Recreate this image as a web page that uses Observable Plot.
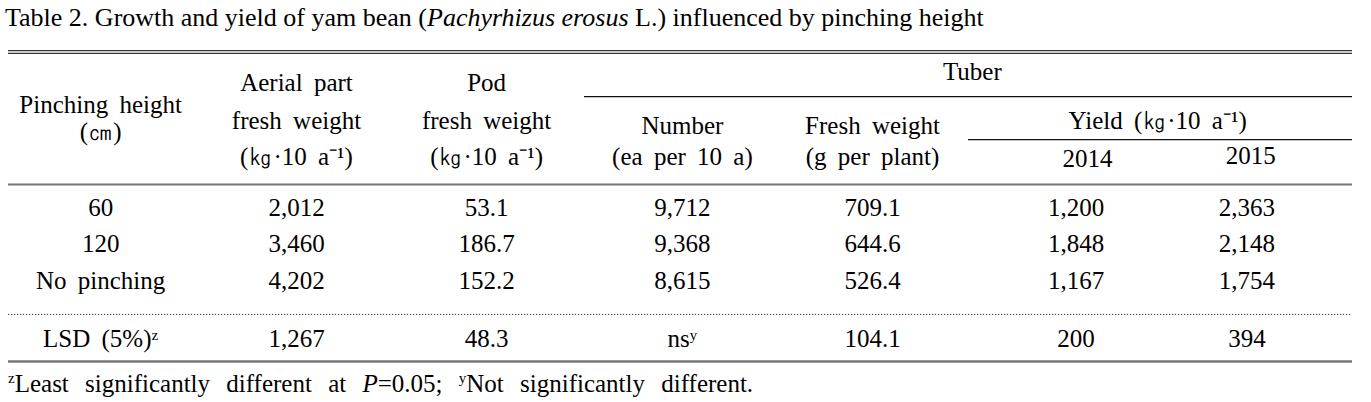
<!DOCTYPE html>
<html>
<head>
<meta charset="utf-8">
<script src="https://cdn.jsdelivr.net/npm/d3@7"></script>
<script src="https://cdn.jsdelivr.net/npm/@observablehq/plot@0.6"></script>
<style>
  html, body { margin: 0; padding: 0; background: #fff; width: 1371px; overflow: hidden; }
  #title { height: 40px; line-height: 36px; padding-left: 5px; font-family: 'Liberation Serif'; font-size: 26px; white-space: nowrap; color: #000; }
  #foot { height: 30px; line-height: 24px; padding-left: 8px; font-family: 'Liberation Serif'; font-size: 25px; word-spacing: 10px; white-space: nowrap; color: #000; }
  #foot sup { font-size: 15px; vertical-align: 9px; line-height: 0; }
  #chart svg { display: block; }
</style>
</head>
<body>
<div id="title">Table 2. Growth and yield of yam bean (<i>Pachyrhizus erosus</i> L.) influenced by pinching height</div>
<div id="chart"></div>
<div id="foot"><sup>z</sup>Least significantly different at <i>P</i>=0.05; <sup>y</sup>Not significantly different.</div>
<script>
// ---- data ----
const treatments = ["60", "120", "No pinching"];
const aerialFreshWeight = [2012, 3460, 4202];
const podFreshWeight = [53.1, 186.7, 152.2];
const tuberNumber = [9712, 9368, 8615];
const tuberFreshWeight = [709.1, 644.6, 526.4];
const yield2014 = [1200, 1848, 1167];
const yield2015 = [2363, 2148, 1754];
const lsdLabel = "LSD (5%)ᶻ";
const lsdValues = ["1,267", "48.3", "nsʸ", "104.1", "200", "394"];
const unitKg = "(㎏·10 a⁻¹)";
const headerLabels = {
  treat: ["Pinching height", "(㎝)"],
  aerial: ["Aerial part", "fresh weight", unitKg],
  pod: ["Pod", "fresh weight", unitKg],
  tuber: "Tuber",
  number: ["Number", "(ea per 10 a)"],
  freshW: ["Fresh weight", "(g per plant)"],
  yieldH: "Yield (㎏·10 a⁻¹)",
  years: ["2014", "2015"]
};

// ---- layout (column units / row units) ----
const colX = [0.48, 1.5, 2.49, 3.51, 4.5, 5.56, 6.45];
const fmtInt = d3.format(",");
const fmtDec = d3.format(".1f");
const series = [
  aerialFreshWeight.map(fmtInt),
  podFreshWeight.map(fmtDec),
  tuberNumber.map(fmtInt),
  tuberFreshWeight.map(fmtDec),
  yield2014.map(fmtInt),
  yield2015.map(fmtInt)
];

const cells = [];
treatments.forEach((t, i) => {
  cells.push({x: colX[0], y: i, text: t});
  series.forEach((s, j) => cells.push({x: colX[j + 1], y: i, text: s[i]}));
});
cells.push({x: colX[0], y: 3.59, text: lsdLabel});
lsdValues.forEach((v, j) => cells.push({x: colX[j + 1], y: 3.59, text: v}));

const header = [
  {x: 5.02, y: -3.70, text: headerLabels.tuber},
  {x: colX[0], y: -2.82, text: headerLabels.treat[0]},
  {x: colX[0], y: -2.08, text: headerLabels.treat[1]},
  {x: colX[1], y: -3.42, text: headerLabels.aerial[0]},
  {x: colX[1], y: -2.38, text: headerLabels.aerial[1]},
  {x: colX[1], y: -1.37, text: headerLabels.aerial[2]},
  {x: colX[2], y: -3.42, text: headerLabels.pod[0]},
  {x: colX[2], y: -2.38, text: headerLabels.pod[1]},
  {x: colX[2], y: -1.37, text: headerLabels.pod[2]},
  {x: colX[3], y: -2.22, text: headerLabels.number[0]},
  {x: colX[3], y: -1.37, text: headerLabels.number[1]},
  {x: colX[4], y: -2.22, text: headerLabels.freshW[0]},
  {x: colX[4], y: -1.37, text: headerLabels.freshW[1]},
  {x: 5.985, y: -2.36, text: headerLabels.yieldH},
  {x: 5.62, y: -1.32, text: headerLabels.years[0]},
  {x: 6.47, y: -1.40, text: headerLabels.years[1]}
];

const rules = [
  {x1: 0, x2: 7, y: -4.30, stroke: "#333", w: 1.3, dash: null},
  {x1: 0, x2: 7, y: -4.22, stroke: "#333", w: 1.3, dash: null},
  {x1: 3, x2: 7, y: -3.04, stroke: "#111", w: 1.3, dash: null},
  {x1: 5, x2: 7, y: -1.86, stroke: "#111", w: 1.3, dash: null},
  {x1: 0, x2: 7, y: -0.63, stroke: "#777", w: 2.2, dash: null},
  {x1: 0, x2: 7, y: 2.93, stroke: "#333", w: 1, dash: "1.2,1.8"},
  {x1: 0, x2: 7, y: 4.22, stroke: "#777", w: 2.6, dash: null}
];

const font = "Liberation Serif";

const chart = Plot.plot({
  width: 1371,
  height: 332,
  marginLeft: 8,
  marginRight: 19,
  marginTop: 0,
  marginBottom: 0,
  style: {background: "#fff", wordSpacing: "5px", fontFamily: font},
  x: {domain: [0, 7], axis: null},
  y: {domain: [-4.575, 4.52], range: [0, 332], axis: null},
  marks: [
    ...rules.map(r => Plot.ruleY([r], {x1: "x1", x2: "x2", y: "y", stroke: r.stroke, strokeWidth: r.w, strokeDasharray: r.dash})),
    Plot.text(header, {x: "x", y: "y", text: "text", fontSize: 25, fontFamily: font, fill: "#000"}),
    Plot.text(cells, {x: "x", y: "y", text: "text", fontSize: 25, fontFamily: font, fill: "#000"})
  ]
});
document.getElementById("chart").appendChild(chart);
</script>
</body>
</html>
